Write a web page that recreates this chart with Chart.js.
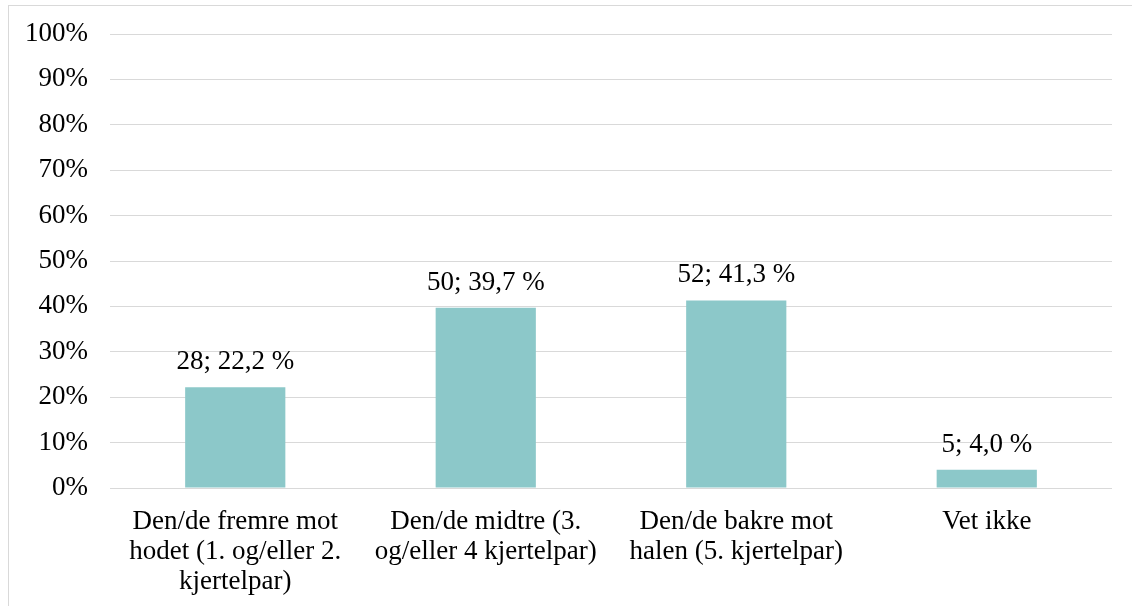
<!DOCTYPE html>
<html>
<head>
<meta charset="utf-8">
<script src="https://cdn.jsdelivr.net/npm/chart.js@4"></script>
<style>
  html, body { margin: 0; padding: 0; background: #fff; overflow: hidden; }
  #wrap { position: relative; width: 1132px; height: 606px; }
  #frame { position: absolute; left: 8px; top: 5px; width: 1140px; height: 620px; border: 1px solid #d9d9d9; }
  #myChart { position: absolute; left: 0; top: 0; }
</style>
</head>
<body>
<div id="wrap">
  <div id="frame"></div>
  <canvas id="myChart" width="1132" height="606"></canvas>
</div>
<script>
const categories = [
  ['Den/de fremre mot', 'hodet (1. og/eller 2.', 'kjertelpar)'],
  ['Den/de midtre (3.', 'og/eller 4 kjertelpar)'],
  ['Den/de bakre mot', 'halen (5. kjertelpar)'],
  'Vet ikke',
];
const counts = [28, 50, 52, 5];
const percents = [22.2, 39.7, 41.3, 4.0];
const yTicks = [0, 10, 20, 30, 40, 50, 60, 70, 80, 90, 100];

const serif = "'Liberation Serif', 'Times New Roman', serif";

// writes "antall; prosent %" above each bar
const barLabels = {
  id: 'barLabels',
  afterDatasetsDraw(chart) {
    const ctx = chart.ctx;
    const meta = chart.getDatasetMeta(0);
    ctx.save();
    ctx.font = '27px ' + serif;
    ctx.fillStyle = '#000';
    ctx.textAlign = 'center';
    ctx.textBaseline = 'alphabetic';
    meta.data.forEach((bar, i) => {
      const txt = counts[i] + '; ' + percents[i].toFixed(1).replace('.', ',') + ' %';
      ctx.fillText(txt, bar.x, bar.y - 18);
    });
    ctx.restore();
  }
};

const data = {
  labels: categories,
  datasets: [{
    data: percents,
    backgroundColor: 'rgb(140, 200, 201)',
    borderWidth: 0,
    barPercentage: 0.4,
    categoryPercentage: 1.0,
  }]
};

const config = {
  type: 'bar',
  data: data,
  plugins: [barLabels],
  options: {
    responsive: false,
    animation: false,
    layout: { padding: { top: 34, right: 20, left: 0, bottom: 0 } },
    plugins: {
      legend: { display: false },
      tooltip: { enabled: false },
    },
    scales: {
      y: {
        min: 0,
        max: 100,
        afterBuildTicks(scale) {
          scale.ticks = yTicks.map(v => ({ value: v }));
        },
        afterFit(scale) {
          scale.width = 110;
          scale.paddingTop = 0;
          scale.paddingBottom = 0;
        },
        border: { display: false },
        grid: { color: '#d9d9d9', lineWidth: 1, drawTicks: false },
        ticks: {
          color: '#000',
          padding: 22,
          font: { family: serif, size: 27 },
          callback: v => v + '%',
        },
      },
      x: {
        afterFit(scale) { scale.height = 118; },
        border: { display: false },
        grid: { display: false, drawTicks: false },
        ticks: {
          color: '#000',
          padding: 19,
          maxRotation: 0,
          font: { family: serif, size: 27, lineHeight: 1.11 },
        },
      },
    },
  },
};

var myChart = new Chart(
  document.getElementById('myChart'),
  config
);
</script>
</body>
</html>
